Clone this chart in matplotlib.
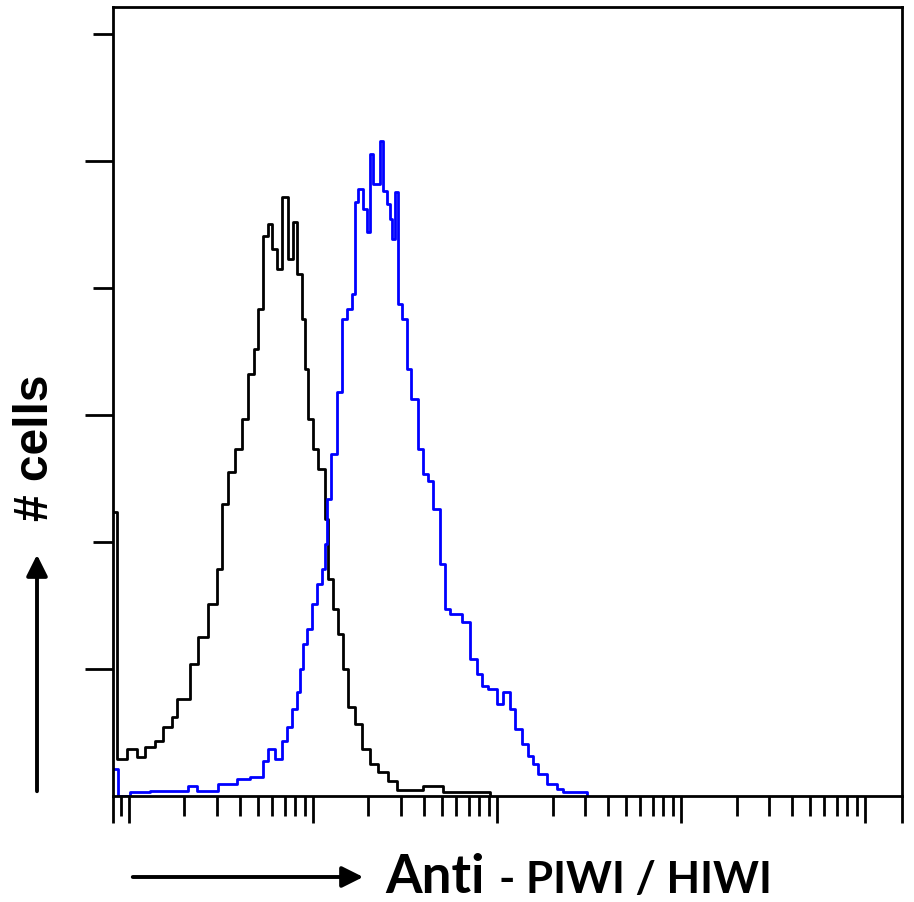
import numpy as np
import matplotlib
matplotlib.use("Agg")
import matplotlib.pyplot as plt
from matplotlib.ticker import FixedLocator, NullFormatter

# ---- data (log10 intensity of bin left edge, counts) ----
black_log = [-0.087, -0.065, -0.011, 0.043, 0.087, 0.141, 0.185, 0.234, 0.261, 0.332,
             0.375, 0.429, 0.478, 0.505, 0.538, 0.576, 0.614, 0.647, 0.679, 0.701,
             0.728, 0.755, 0.777, 0.804, 0.832, 0.864, 0.891, 0.913, 0.940, 0.957,
             0.973, 1.000, 1.027, 1.065, 1.082, 1.109, 1.136, 1.163, 1.190, 1.228,
             1.266, 1.310, 1.353, 1.408, 1.457, 1.598, 1.707, 1.962]
black_cnt = [44.7, 5.8, 7.4, 6.1, 7.7, 8.7, 10.9, 12.4, 15.3, 20.8,
             25.0, 30.2, 35.8, 46.0, 51.0, 54.7, 59.4, 66.5, 70.4, 76.7,
             88.2, 90.1, 86.2, 83.0, 94.3, 84.6, 90.4, 82.2, 75.1, 67.3,
             59.4, 54.7, 51.5, 43.6, 34.2, 29.5, 25.5, 20.0, 14.0, 11.3,
             7.4, 5.0, 3.8, 2.4, 0.9, 1.6, 0.6, 0.0]

blue_log = [-0.087, -0.060, 0.005, 0.114, 0.321, 0.370, 0.484, 0.587, 0.658, 0.728,
            0.755, 0.793, 0.832, 0.859, 0.886, 0.913, 0.929, 0.946, 0.967, 0.995,
            1.022, 1.049, 1.065, 1.076, 1.098, 1.130, 1.158, 1.185, 1.212, 1.228,
            1.245, 1.272, 1.293, 1.310, 1.326, 1.364, 1.380, 1.402, 1.418, 1.429,
            1.446, 1.462, 1.484, 1.511, 1.533, 1.571, 1.598, 1.625, 1.652, 1.690,
            1.717, 1.745, 1.810, 1.853, 1.891, 1.918, 1.951, 2.000, 2.033, 2.071,
            2.098, 2.136, 2.168, 2.196, 2.223, 2.272, 2.326, 2.359, 2.489]
blue_cnt = [4.3, 0.0, 0.6, 0.8, 1.6, 0.8, 1.9, 2.7, 3.0, 5.5,
            7.4, 5.8, 8.7, 10.9, 13.7, 16.4, 20.0, 23.9, 26.3, 30.2,
            33.4, 35.8, 39.7, 46.8, 53.9, 63.6, 75.1, 76.7, 79.1, 93.6,
            95.6, 92.5, 88.8, 101.1, 96.4, 103.2, 95.3, 93.2, 90.9, 87.7,
            95.1, 77.5, 75.1, 67.3, 62.5, 54.7, 50.7, 49.6, 45.2, 36.5,
            29.5, 28.7, 27.4, 21.6, 19.2, 17.3, 16.9, 14.5, 16.4, 13.7,
            10.6, 8.2, 6.3, 5.0, 3.5, 1.9, 1.1, 0.6, 0.0]

x_major = [1, 10, 100, 1000, 10000]
x_minor = [0.9] + [m * d for d in (1, 10, 100, 1000) for m in range(2, 10)]
y_long = [20, 60, 100]
y_short = [40, 80, 120]
x_range_log = (-0.087, 4.2)
y_top = 124.3

xlabel_big = "Anti"
xlabel_small = "- PIWI / HIWI"
ylabel = "# cells"

W, H = 914, 903
fig = plt.figure(figsize=(W / 100, H / 100), dpi=100)
ax = fig.add_axes([113 / W, 1 - 797 / H, (902 - 113) / W, (797 - 8) / H])
ax.set_xscale("log")

ax.plot(10 ** np.array(black_log), black_cnt, drawstyle="steps-post", color="black", lw=2.0)
ax.plot(10 ** np.array(blue_log), blue_cnt, drawstyle="steps-post", color="#0000ff", lw=2.0)

xmin, xmax = 10 ** x_range_log[0], 10 ** x_range_log[1]
ax.set_xlim(xmin, xmax)
ax.set_ylim(0, y_top)

ax.xaxis.set_major_locator(FixedLocator([xmin] + x_major + [xmax]))
ax.xaxis.set_minor_locator(FixedLocator(x_minor))
ax.xaxis.set_major_formatter(NullFormatter())
ax.xaxis.set_minor_formatter(NullFormatter())
ax.yaxis.set_major_locator(FixedLocator(y_long))
ax.yaxis.set_minor_locator(FixedLocator(y_short))
ax.yaxis.set_major_formatter(NullFormatter())
ax.yaxis.set_minor_formatter(NullFormatter())

ax.tick_params(axis="x", which="major", direction="out", length=19.5, width=2.0, color="black")
ax.tick_params(axis="x", which="minor", direction="out", length=14.5, width=2.0, color="black")
ax.tick_params(axis="y", which="major", direction="out", length=20, width=2.0, color="black")
ax.tick_params(axis="y", which="minor", direction="out", length=14.5, width=2.0, color="black")

for s in ax.spines.values():
    s.set_linewidth(2.0)
    s.set_color("black")

# axis labels and arrows
fig.text(385 / W, 1 - 893 / H, xlabel_big, fontsize=38, fontweight="bold",
         family=["Lato", "DejaVu Sans"], ha="left", va="baseline")
fig.text(499 / W, 1 - 893 / H, xlabel_small, fontsize=31.5, fontweight="bold",
         family=["Lato", "DejaVu Sans"], ha="left", va="baseline")
fig.text(36 / W, 1 - 448 / H, ylabel, fontsize=34.5, fontweight="bold",
         family=["Liberation Sans", "DejaVu Sans"], rotation=90, ha="center", va="center")

fig.add_artist(matplotlib.patches.FancyArrowPatch(
    (130 / W, 1 - 878 / H), (366 / W, 1 - 878 / H), transform=fig.transFigure,
    arrowstyle="-|>", mutation_scale=32, lw=2.8, color="black"))
fig.add_artist(matplotlib.patches.FancyArrowPatch(
    (37 / W, 1 - 795 / H), (37 / W, 1 - 553 / H), transform=fig.transFigure,
    arrowstyle="-|>", mutation_scale=32, lw=2.8, color="black"))

fig.savefig("out.png", dpi=100, facecolor="white")
